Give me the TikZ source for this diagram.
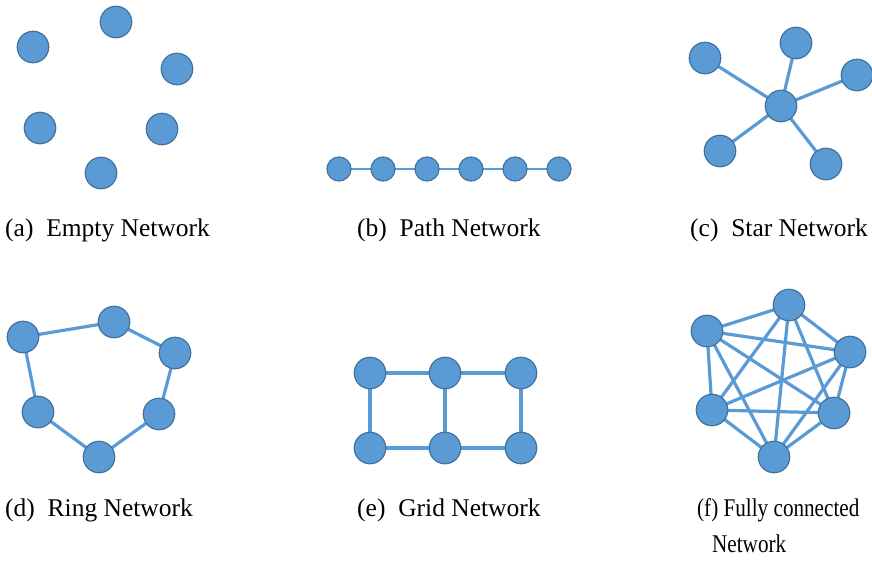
\documentclass[tikz,border=0pt]{standalone}
\usepackage{fontspec}
\setmainfont{Liberation Serif}
\definecolor{nfill}{HTML}{5B9BD5}
\definecolor{nline}{HTML}{41719C}
\definecolor{eline}{HTML}{5B9BD5}
\pgfdeclarelayer{bg}
\pgfsetlayers{bg,main}
\begin{document}
\begin{tikzpicture}[x=1pt,y=-1pt,
  nd/.style={circle,fill=nfill,draw=nline,line width=1.2pt,minimum size=31.5pt,inner sep=0pt},
  sn/.style={nd,minimum size=24pt},
  ed/.style={draw=eline,line width=3.2pt},
  pe/.style={draw=eline,line width=2.2pt},
  lab/.style={anchor=base west,inner sep=0pt,font=\fontsize{25.5}{30}\selectfont},
  flab/.style={lab,xscale=0.83}]
\useasboundingbox (0,0) rectangle (872,560);
% (a) Empty
\node[nd] (a1) at (116,22) {};
\node[nd] (a2) at (33,47) {};
\node[nd] (a3) at (177,69) {};
\node[nd] (a4) at (40,128) {};
\node[nd] (a5) at (162,129) {};
\node[nd] (a6) at (101,173) {};
% (b) Path
\foreach \i/\x in {1/339,2/383,3/427,4/471,5/515,6/559}
  \node[sn] (b\i) at (\x,169) {};
% (c) Star
\node[nd] (cc) at (781,106) {};
\node[nd] (c1) at (705,58) {};
\node[nd] (c2) at (796,43) {};
\node[nd] (c3) at (857,75) {};
\node[nd] (c4) at (720,151) {};
\node[nd] (c5) at (826,164) {};
% (d) Ring
\node[nd] (d1) at (23,337) {};
\node[nd] (d2) at (114,322) {};
\node[nd] (d3) at (175,353) {};
\node[nd] (d4) at (159,414) {};
\node[nd] (d5) at (99,457) {};
\node[nd] (d6) at (38,412) {};
% (e) Grid
\node[nd] (e1) at (370,373) {};
\node[nd] (e2) at (445,373) {};
\node[nd] (e3) at (521,373) {};
\node[nd] (e4) at (370,448) {};
\node[nd] (e5) at (445,448) {};
\node[nd] (e6) at (521,448) {};
% (f) Full
\node[nd] (f1) at (789,305) {};
\node[nd] (f2) at (707,331) {};
\node[nd] (f3) at (850,352) {};
\node[nd] (f4) at (712,410) {};
\node[nd] (f5) at (834,413) {};
\node[nd] (f6) at (774,457) {};
\begin{pgfonlayer}{bg}
\foreach \i/\j in {1/2,2/3,3/4,4/5,5/6}
  \draw[pe] (b\i.center) -- (b\j.center);
\foreach \j in {c1,c2,c3,c4,c5}
  \draw[ed] (cc.center) -- (\j.center);
\foreach \i/\j in {d1/d2,d2/d3,d3/d4,d4/d5,d5/d6,d6/d1}
  \draw[ed] (\i.center) -- (\j.center);
\foreach \i/\j in {e1/e2,e2/e3,e4/e5,e5/e6,e1/e4,e2/e5,e3/e6}
  \draw[ed] (\i.center) -- (\j.center);
\foreach \i/\j in {f1/f2,f1/f3,f1/f4,f1/f5,f1/f6,f2/f3,f2/f4,f2/f5,f2/f6,f3/f4,f3/f5,f3/f6,f4/f5,f4/f6,f5/f6}
  \draw[ed] (\i.center) -- (\j.center);
\end{pgfonlayer}
% labels
\node[lab] (la) at (5,236) {(a)\enspace Empty Network};
\node[lab] (lb) at (357,236) {(b)\enspace Path Network};
\node[lab] (lc) at (690,236) {(c)\enspace Star Network};
\node[lab] (ld) at (5,516) {(d)\enspace Ring Network};
\node[lab] (le) at (357,516) {(e)\enspace Grid Network};
\node[flab] (lf) at (697,516) {(f) Fully connected};
\node[flab] (lf2) at (712,552) {Network};
\end{tikzpicture}
\end{document}
